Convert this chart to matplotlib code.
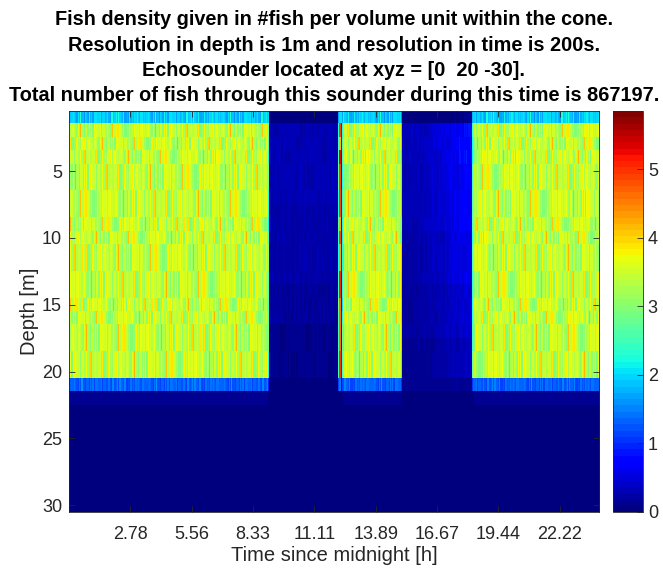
import numpy as np
import matplotlib
matplotlib.use("Agg")
import matplotlib.pyplot as plt

plt.rcParams['font.family'] = ['Liberation Sans', 'DejaVu Sans']

# 24 h at 200 s resolution, 30 depth bins of 1 m
n_time = 432
depth_m = np.arange(1, 31)

# depth profiles of mean density (#fish per volume unit), row 1 = 1 m
fish_profile = [1.9] + [3.4] * 19 + [1.3, 0.12] + [0.03] * 8
edge_profile = [1.7] + [2.4] * 19 + [1.0, 0.08] + [0.03] * 8
spike_profile = [2.0] + [4.8] * 19 + [1.5, 0.1] + [0.03] * 8
dip_profile = [1.8] + [0.9] * 19 + [0.8, 0.05] + [0.03] * 8
empty1_profile = [0.05] + [0.3] * 6 + [0.25] * 6 + [0.18] * 3 + [0.1] * 4 + [0.02] * 10
empty2_profile = [0.06] + [0.5] * 3 + [0.45] * 5 + [0.38] * 4 + [0.3] * 4 + [0.22] * 3 + [0.15] + [0.03] * 9
profiles = {'fish': fish_profile, 'edge': edge_profile, 'spike': spike_profile,
            'dip': dip_profile, 'empty1': empty1_profile, 'empty2': empty2_profile}

# time segments: first column of each segment and its profile
seg_start = [0, 1, 162, 163, 219, 220, 221, 222, 223, 270, 271, 328, 329]
seg_kind = ['edge', 'fish', 'edge', 'empty1', 'edge', 'spike', 'dip', 'edge',
            'fish', 'edge', 'empty2', 'edge', 'fish']

# brightening of the afternoon gap towards evening
empty2_ramp = [0.6, 0.65, 0.7, 0.8, 0.9, 1.0, 1.15, 1.3, 1.45, 1.55]

# speckle (deviation from the mean)
speckle = [0.12, -0.31, 0.45, 0.05, -0.18, 0.62, -0.42, 0.21, 0.33, -0.09,
           -0.51, 0.18, 0.74, -0.25, 0.08, 0.39, -0.36, 0.02, 0.27, -0.14,
           0.51, -0.47, 0.15, -0.05, 0.88, -0.29, 0.24, -0.38, 0.11, 0.43,
           -0.21, 0.06, -0.55, 0.31, 0.19, -0.12, 0.58, -0.33, 0.03, 0.26,
           -0.44, 0.14, 0.36, -0.07, -0.27, 0.49, 0.09, -0.19, 0.22, -0.40,
           0.66, 0.01, -0.16, 0.29, -0.34, 0.17, 0.41, -0.23, 0.07, -0.48, 0.35]

xtick_labels = ['2.78', '5.56', '8.33', '11.11', '13.89', '16.67', '19.44', '22.22']
ytick_values = [5, 10, 15, 20, 25, 30]
cbar_ticks = [0, 1, 2, 3, 4, 5]
clim = (0, 5.85)

# build the density grid
density = np.zeros((len(depth_m), n_time))
bounds = seg_start + [n_time]
ns = len(speckle)
for s, kind in enumerate(seg_kind):
    c0, c1 = bounds[s], bounds[s + 1]
    prof = profiles[kind]
    for c in range(c0, c1):
        for r in range(len(depth_m)):
            t = speckle[(c * 23 + (r // 2) * 13 + (r // 3) * 5) % ns]
            if kind.startswith('empty'):
                v = prof[r] * (1 + 0.3 * t)
                if kind == 'empty2' and r < 20:
                    v *= empty2_ramp[(c - c0) * len(empty2_ramp) // (c1 - c0)]
            else:
                v = prof[r] * (1 + 0.85 * t / 3.4)
            density[r, c] = max(v, 0)

fig = plt.figure(figsize=(6.63, 5.68), dpi=100)
ax = fig.add_axes([0.104, 0.0986, 0.7994, 0.706])
cmap = plt.get_cmap('jet', 64)
im = ax.imshow(density, cmap=cmap, vmin=clim[0], vmax=clim[1], aspect='auto',
               interpolation='nearest', extent=[0, 24, 30.5, 0.5])

ax.set_xticks([k * 10000 / 3600 for k in range(1, 9)])
ax.set_xticklabels(xtick_labels)
ax.set_yticks(ytick_values)
ax.tick_params(direction='in', top=True, right=True, labelsize=13,
               colors='#262626', length=4, width=0.6, pad=5)
ax.tick_params(axis='x', pad=10)
for sp in ax.spines.values():
    sp.set_color('#262626')
    sp.set_linewidth(0.6)
ax.set_xlabel('Time since midnight [h]', fontsize=14.5, color='#262626', labelpad=2)
ax.set_ylabel('Depth [m]', fontsize=14.5, color='#262626', labelpad=2)
ax.set_title('Fish density given in #fish per volume unit within the cone.\n'
             'Resolution in depth is 1m and resolution in time is 200s.\n'
             'Echosounder located at xyz = [0  20 -30].\n'
             'Total number of fish through this sounder during this time is 867197.',
             fontsize=14.3, fontweight='bold', linespacing=1.42, pad=7)

cax = fig.add_axes([0.9246, 0.0986, 0.0452, 0.706])
cb = fig.colorbar(im, cax=cax, ticks=cbar_ticks)
cb.ax.tick_params(direction='in', labelsize=13, colors='#262626', length=4, width=0.6)
cb.outline.set_edgecolor('#262626')
cb.outline.set_linewidth(0.6)

fig.savefig('out.png', dpi=100)
